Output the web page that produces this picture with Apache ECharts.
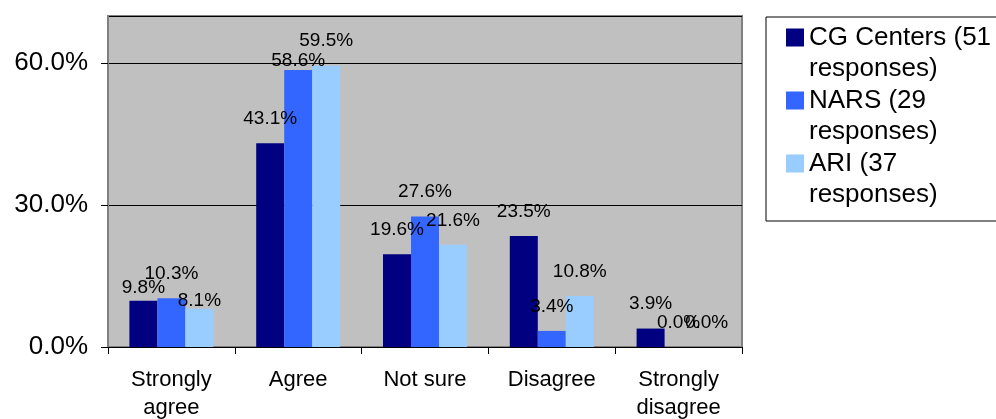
<!DOCTYPE html>
<html>
<head>
<meta charset="utf-8">
<script src="https://cdn.jsdelivr.net/npm/echarts@6/dist/echarts.min.js"></script>
<style>
html,body{margin:0;padding:0;background:#fff;overflow:hidden;}
#chart{width:996px;height:419px;}
</style>
</head>
<body>
<div id="chart"></div>
<script>
const categories = ['Strongly\nagree', 'Agree', 'Not sure', 'Disagree', 'Strongly\ndisagree'];
const seriesNames = ['CG Centers (51 responses)', 'NARS (29 responses)', 'ARI (37 responses)'];
const cgCenters = [9.8, 43.1, 19.6, 23.5, 3.9];
const nars = [10.3, 58.6, 27.6, 3.4, 0.0];
const ari = [8.1, 59.5, 21.6, 10.8, 0.0];
const yTicks = [0, 30, 60];

const colors = ['#000080', '#3366FF', '#99CCFF'];
const values = [cgCenters, nars, ari];
// label gap overrides (style only): "seriesIndex-categoryIndex" -> distance
const labelGapOverride = { '0-0': 3, '1-1': 0, '2-0': -2 };
const FONT = 'Liberation Sans, Arial, sans-serif';

const chart = echarts.init(document.getElementById('chart'), null, { renderer: 'canvas' });

const series = values.map((vals, si) => ({
  name: seriesNames[si],
  type: 'bar',
  barWidth: 28,
  barGap: '0%',
  itemStyle: { color: colors[si] },
  data: vals.map((v, ci) => {
    const item = { value: v };
    const key = si + '-' + ci;
    if (key in labelGapOverride) item.label = { distance: labelGapOverride[key] };
    return item;
  }),
  label: {
    show: true,
    position: 'top',
    distance: 15,
    color: '#000',
    fontFamily: FONT,
    fontSize: 19,
    formatter: p => p.value.toFixed(1) + '%'
  }
}));

chart.setOption({
  animation: false,
  color: colors,
  grid: {
    left: 108, right: 254, top: 16, bottom: 72,
    containLabel: false,
    outerBoundsMode: 'none',
    show: true, backgroundColor: '#C0C0C0', borderColor: '#808080', borderWidth: 2
  },
  legend: {
    orient: 'vertical',
    left: 766, top: 17,
    itemWidth: 18, itemHeight: 62, itemGap: 1,
    icon: 'path://M0,0M0,6.5H18V24.5H0ZM0,62',
    padding: [5, 8, 11, 20],
    borderColor: '#000', borderWidth: 1,
    backgroundColor: '#fff',
    selectedMode: false,
    textStyle: { fontFamily: FONT, fontSize: 26, lineHeight: 31, color: '#000', width: 200 },
    formatter: name => name.replace(' responses)', '\nresponses)')
  },
  xAxis: {
    type: 'category',
    data: categories,
    axisLine: { lineStyle: { color: '#000', width: 1 } },
    axisTick: { show: true, length: 7, interval: 0, lineStyle: { color: '#000' } },
    axisLabel: { fontFamily: FONT, fontSize: 22, lineHeight: 28, color: '#000', margin: 19, interval: 0 }
  },
  yAxis: {
    type: 'value',
    min: 0, max: 70, interval: 30,
    axisLine: { show: true, lineStyle: { color: '#808080' } },
    axisTick: { show: true, length: 7, lineStyle: { color: '#000' } },
    splitLine: { show: true, lineStyle: { color: '#000', width: 1 } },
    axisLabel: {
      fontFamily: FONT, fontSize: 26, color: '#000', margin: 20,
      showMaxLabel: false,
      formatter: v => (yTicks.indexOf(v) >= 0 ? v.toFixed(1) + '%' : '')
    }
  },
  series: series
});
</script>
</body>
</html>
